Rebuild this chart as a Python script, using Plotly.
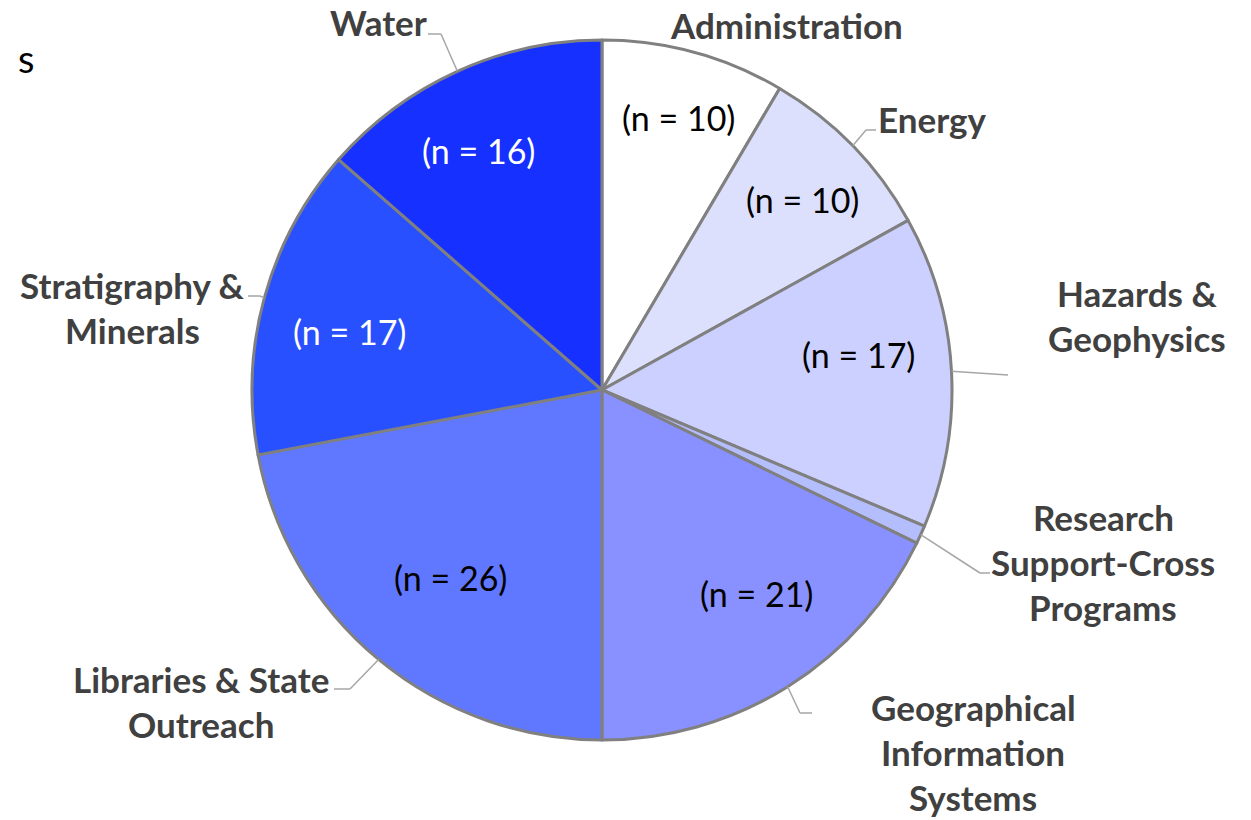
import math
import plotly.graph_objects as go

# ---------------- data ----------------
categories = [
    "Administration", "Energy", "Hazards & Geophysics",
    "Research Support-Cross Programs", "Geographical Information Systems",
    "Libraries & State Outreach", "Stratigraphy & Minerals", "Water",
]
counts = [10, 10, 17, 1, 21, 26, 17, 16]
label_lines = [
    ["Administration"], ["Energy"], ["Hazards &", "Geophysics"],
    ["Research", "Support-Cross", "Programs"],
    ["Geographical", "Information", "Systems"],
    ["Libraries & State", "Outreach"], ["Stratigraphy &", "Minerals"], ["Water"],
]
show_inside = [True, True, True, False, True, True, True, True]

# ---------------- styles / layout ----------------
W, H = 1251, 820
CX, CY, R = 602, 390, 350
colors = ["#FFFFFF", "#DCE0FC", "#CCD0FF", "#B4BEFC", "#8891FF", "#6077FF", "#2850FF", "#1530FF"]
inside_colors = ["#000000"] * 6 + ["#FFFFFF", "#FFFFFF"]
inside_r = [0.81, 0.79, 0.74, 0.7, 0.73, 0.69, 0.74, 0.77]
inside_dang = [0.5, 0.7, -4.9, 0, -5.2, -0.7, -2.2, -2.9]
# label block anchor (center x, first line center y) in pixels
label_pos = [(786, 25), (932, 119), (1137, 293), (1103, 517), (973, 707),
             (201, 679), (132, 285), (378, 22)]
leader_elbows = [[], [(866, 130), (876, 130)], [(1008, 375)], [(980, 573), (990, 573)],
                 [(800, 713), (812, 713)], [(350, 689), (334, 689)],
                 [(260, 296), (248, 296)], [(441, 34), (428, 34)]]
LINE_H = 45
FONT = "Lato"


def px(x):
    return x / W


def py(y):
    return 1 - y / H


fig = go.Figure(go.Pie(
    labels=categories, values=counts, sort=False, direction="clockwise",
    rotation=0, textinfo="none", hoverinfo="label+value",
    marker=dict(colors=colors, line=dict(color="#808080", width=3)),
    domain=dict(x=[px(CX - R), px(CX + R)], y=[py(CY + R), py(CY - R)]),
    showlegend=False,
))

annotations = []
shapes = []
total = sum(counts)
cum = 0
for i, v in enumerate(counts):
    mid = (cum + v / 2) / total * 2 * math.pi
    cum += v
    sx, cy_ = math.sin(mid), math.cos(mid)
    if show_inside[i]:
        a = mid + math.radians(inside_dang[i])
        rr = inside_r[i] * R
        annotations.append(dict(
            x=px(CX + rr * math.sin(a)), y=py(CY - rr * math.cos(a)),
            xref="paper", yref="paper", showarrow=False,
            text=f"(n = {v})", xanchor="center", yanchor="middle",
            font=dict(family=FONT, size=34, color=inside_colors[i]),
        ))
    # leader line
    pts = [(CX + R * sx, CY - R * cy_)] + leader_elbows[i]
    for (x0, y0), (x1, y1) in zip(pts[:-1], pts[1:]):
        shapes.append(dict(type="line", xref="paper", yref="paper",
                           x0=px(x0), y0=py(y0), x1=px(x1), y1=py(y1),
                           line=dict(color="#A6A6A6", width=1.5)))
    lx, ly = label_pos[i]
    for k, t in enumerate(label_lines[i]):
        annotations.append(dict(
            x=px(lx), y=py(ly + k * LINE_H), xref="paper", yref="paper",
            showarrow=False, text=f"<b>{t}</b>", xanchor="center", yanchor="middle",
            font=dict(family=FONT, size=35, color="#404040"),
        ))

# clipped title fragment at top-left
annotations.append(dict(x=px(36), y=py(58), xref="paper", yref="paper", showarrow=False,
                        text="s", xanchor="right", yanchor="middle",
                        font=dict(family=FONT, size=38, color="#000000")))

fig.update_layout(
    width=W, height=H, margin=dict(l=0, r=0, t=0, b=0),
    paper_bgcolor="white", plot_bgcolor="white",
    annotations=annotations, shapes=shapes,
)
fig.write_html("out.html", config={"displayModeBar": False},
               post_script="document.body.style.margin='0';document.body.style.padding='0';")
